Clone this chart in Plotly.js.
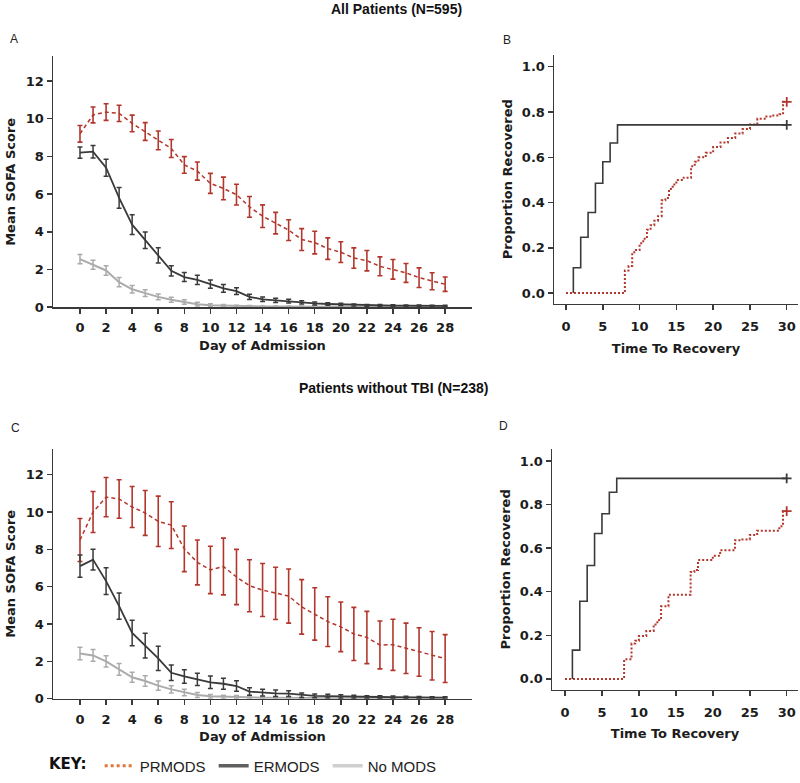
<!DOCTYPE html>
<html>
<head>
<meta charset="utf-8">
<script src="https://cdn.plot.ly/plotly-3.0.1.min.js"></script>
<style>html,body{margin:0;padding:0;background:#fff;}#chart{width:800px;height:783px;}</style>
</head>
<body>
<div id="chart"></div>
<script>
// ---------- Data ----------
const days = [0,1,2,3,4,5,6,7,8,9,10,11,12,13,14,15,16,17,18,19,20,21,22,23,24,25,26,27,28];
const dayTicks = [0,2,4,6,8,10,12,14,16,18,20,22,24,26,28];
const sofaTicks = [0,2,4,6,8,10,12];
const timeTicks = [0,5,10,15,20,25,30];
const propTicks = [0,0.2,0.4,0.6,0.8,1.0];

// Panel A: all patients
const A_PR_mean = [9.2,10.2,10.35,10.28,9.75,9.32,8.85,8.42,7.55,7.22,6.57,6.3,5.97,5.32,4.83,4.46,4.09,3.59,3.43,3.11,2.92,2.61,2.47,2.17,2.01,1.82,1.57,1.38,1.22];
const A_PR_err  = [0.44,0.42,0.44,0.43,0.44,0.47,0.5,0.48,0.44,0.48,0.53,0.6,0.55,0.55,0.6,0.57,0.55,0.58,0.6,0.57,0.55,0.54,0.54,0.5,0.52,0.5,0.52,0.45,0.38];
const A_ER_mean = [8.2,8.25,7.4,5.8,4.38,3.55,2.75,1.93,1.6,1.45,1.23,1.0,0.85,0.55,0.42,0.36,0.32,0.26,0.2,0.17,0.15,0.12,0.1,0.09,0.09,0.08,0.08,0.07,0.07];
const A_ER_err  = [0.3,0.33,0.45,0.55,0.52,0.44,0.4,0.27,0.24,0.25,0.22,0.2,0.18,0.14,0.12,0.11,0.1,0.09,0.08,0.07,0.06,0.05,0.05,0.05,0.04,0.04,0.04,0.04,0.04];
const A_NO_mean = [2.55,2.25,1.95,1.33,0.95,0.75,0.55,0.4,0.28,0.16,0.1,0.08,0.06,0.05,0.04,0.04,0.03,0.03,0.03,0.03,0.02,0.02,0.02,0.02,0.02,0.02,0.02,0.02,0.02];
const A_NO_err  = [0.25,0.24,0.25,0.25,0.2,0.18,0.15,0.13,0.12,0.1,0.08,0.06,0.05,0.04,0.03,0.03,0.03,0.03,0.02,0.02,0.02,0.02,0.02,0.02,0.02,0.02,0.02,0.02,0.02];

// Panel B: time to recovery, all patients
const B_ER_time = [1,1,2,3,4,5,6,7,30];
const B_ER_prop = [0,0.112,0.247,0.356,0.485,0.58,0.663,0.743,0.743];
const B_PR_time = [0,8,8.5,9,9.5,10,10.5,11,11.5,12,12.5,13,13.5,14,14.5,15,16,17,17.5,18,19,20,21,22,23,24,25,26,27,28,29,29.5,30];
const B_PR_prop = [0,0.10,0.12,0.18,0.19,0.22,0.24,0.28,0.30,0.32,0.34,0.41,0.42,0.46,0.48,0.50,0.51,0.56,0.58,0.60,0.62,0.645,0.665,0.685,0.705,0.725,0.745,0.77,0.78,0.785,0.79,0.845,0.845];

// Panel C: patients without TBI
const C_PR_mean = [8.5,10.0,10.8,10.7,10.27,9.95,9.5,9.3,8.03,7.3,6.9,7.08,6.52,6.05,5.82,5.64,5.5,4.92,4.54,4.13,3.85,3.47,3.28,2.88,2.89,2.7,2.5,2.3,2.15];
const C_PR_err  = [1.15,1.1,1.05,1.03,1.1,1.2,1.35,1.25,1.22,1.2,1.27,1.52,1.48,1.39,1.42,1.4,1.45,1.46,1.4,1.33,1.33,1.42,1.4,1.28,1.37,1.35,1.3,1.3,1.28];
const C_ER_mean = [7.1,7.45,6.3,4.96,3.52,2.84,2.16,1.39,1.19,1.04,0.88,0.8,0.68,0.38,0.32,0.29,0.27,0.19,0.15,0.14,0.12,0.1,0.09,0.09,0.08,0.07,0.07,0.06,0.06];
const C_ER_err  = [0.6,0.55,0.72,0.7,0.68,0.66,0.65,0.42,0.36,0.33,0.33,0.3,0.28,0.2,0.18,0.17,0.15,0.12,0.1,0.1,0.09,0.08,0.07,0.07,0.06,0.06,0.05,0.05,0.05];
const C_NO_mean = [2.42,2.32,2.0,1.57,1.15,0.95,0.7,0.5,0.33,0.2,0.13,0.1,0.09,0.06,0.05,0.05,0.04,0.04,0.04,0.03,0.03,0.03,0.03,0.03,0.03,0.03,0.03,0.03,0.03];
const C_NO_err  = [0.33,0.32,0.3,0.32,0.27,0.28,0.25,0.2,0.17,0.13,0.1,0.09,0.08,0.05,0.04,0.04,0.04,0.03,0.03,0.03,0.03,0.03,0.03,0.03,0.03,0.03,0.03,0.03,0.03];

// Panel D: time to recovery, without TBI
const D_ER_time = [1,1,2,3,4,5,6,7,30];
const D_ER_prop = [0,0.132,0.356,0.52,0.667,0.758,0.856,0.92,0.92];
const D_PR_time = [0,8,9,9.5,10,11,12,12.5,13,14,17,17.5,18,20,21,23,24,25,26,29,29.5,30];
const D_PR_prop = [0,0.09,0.162,0.175,0.197,0.22,0.25,0.27,0.333,0.386,0.49,0.50,0.545,0.565,0.59,0.636,0.64,0.66,0.68,0.70,0.77,0.77];

const groupNames = ['PRMODS','ERMODS','No MODS'];

// ---------- Styles ----------
const RED = '#b2362c';
const DARK = '#3a3a3a';
const LIGHT = '#ababab';

function sofaTraces(xa, ya, pr, prErr, no, noErr, er, erErr) {
  return [
    {x: days, y: pr, xaxis: xa, yaxis: ya, mode: 'lines', showlegend: false,
     line: {color: RED, width: 1.5, dash: '4px,3px'},
     error_y: {type: 'data', array: prErr, visible: true, color: RED, thickness: 1.6, width: 2.5}},
    {x: days, y: no, xaxis: xa, yaxis: ya, mode: 'lines', showlegend: false,
     line: {color: LIGHT, width: 2},
     error_y: {type: 'data', array: noErr, visible: true, color: LIGHT, thickness: 1.5, width: 2.5}},
    {x: days, y: er, xaxis: xa, yaxis: ya, mode: 'lines', showlegend: false,
     line: {color: DARK, width: 1.8},
     error_y: {type: 'data', array: erErr, visible: true, color: DARK, thickness: 1.5, width: 2.5}}
  ];
}
function kmTraces(xa, ya, prT, prP, erT, erP) {
  return [
    {x: prT, y: prP, xaxis: xa, yaxis: ya, mode: 'lines', showlegend: false,
     line: {color: RED, width: 2, dash: '2px,2px', shape: 'hv'}},
    {x: erT, y: erP, xaxis: xa, yaxis: ya, mode: 'lines', showlegend: false,
     line: {color: DARK, width: 1.6, shape: 'hv'}},
    {x: [prT[prT.length-1]], y: [prP[prP.length-1]], xaxis: xa, yaxis: ya, mode: 'markers', showlegend: false,
     marker: {symbol: 'cross-thin', size: 7, line: {color: RED, width: 1.8}}},
    {x: [erT[erT.length-1]], y: [erP[erP.length-1]], xaxis: xa, yaxis: ya, mode: 'markers', showlegend: false,
     marker: {symbol: 'cross-thin', size: 7, line: {color: DARK, width: 1.8}}}
  ];
}

const keyTraces = [
  {x: [null], y: [null], xaxis: 'x', yaxis: 'y', mode: 'lines', name: groupNames[0], line: {color: '#e0743a', width: 3, dash: '3px,3px'}},
  {x: [null], y: [null], xaxis: 'x', yaxis: 'y', mode: 'lines', name: groupNames[1], line: {color: '#5f5f5f', width: 3.5}},
  {x: [null], y: [null], xaxis: 'x', yaxis: 'y', mode: 'lines', name: groupNames[2], line: {color: '#cfcfcf', width: 3.5}}
];

const data = [].concat(
  sofaTraces('x', 'y', A_PR_mean, A_PR_err, A_NO_mean, A_NO_err, A_ER_mean, A_ER_err),
  kmTraces('x2', 'y2', B_PR_time, B_PR_prop, B_ER_time, B_ER_prop),
  sofaTraces('x3', 'y3', C_PR_mean, C_PR_err, C_NO_mean, C_NO_err, C_ER_mean, C_ER_err),
  kmTraces('x4', 'y4', D_PR_time, D_PR_prop, D_ER_time, D_ER_prop),
  keyTraces
);

const W = 800, H = 783;
const px = v => v / W;
const py = v => 1 - v / H;

const tickFont = {family: 'DejaVu Sans', size: 13, color: '#1c1c1c', weight: 'bold'};
const titleFont = {family: 'DejaVu Sans', size: 13, color: '#1c1c1c', weight: 'bold'};
function ax(extra) {
  return Object.assign({
    showline: true, linecolor: DARK, linewidth: 1.5, mirror: false,
    ticks: 'outside', ticklen: 5, tickwidth: 1.5, tickcolor: DARK,
    showgrid: false, zeroline: false, tickfont: tickFont, automargin: false, fixedrange: true
  }, extra);
}

const layout = {
  width: W, height: H,
  margin: {l: 0, r: 0, t: 0, b: 0},
  paper_bgcolor: '#fff', plot_bgcolor: 'rgba(0,0,0,0)',
  showlegend: true,
  legend: {
    orientation: 'h', x: px(47), xanchor: 'left', y: py(773), yanchor: 'middle',
    title: {text: 'KEY:\u00a0', side: 'left', font: {family: 'DejaVu Sans', size: 15, weight: 'bold', color: '#111'}},
    font: {family: 'Liberation Sans', size: 15, color: '#222'},
    itemwidth: 30, entrywidth: 69, entrywidthmode: 'pixels', bgcolor: 'rgba(0,0,0,0)', borderwidth: 0,
    traceorder: 'normal'
  },
  // Panel A
  xaxis: ax({domain: [px(53), px(472)], range: [-2.07, 30.06], tickvals: dayTicks, anchor: 'y', ticklabelstandoff: 3,
    title: {text: 'Day of Admission', font: titleFont, standoff: 6}}),
  yaxis: ax({domain: [py(310), py(57)], range: [0, 13.3], tickvals: sofaTicks, anchor: 'x',
    title: {text: 'Mean SOFA Score', font: titleFont, standoff: 7}}),
  // Panel B
  xaxis2: ax({domain: [px(554), px(798)], range: [-1.63, 31.53], tickvals: timeTicks, anchor: 'y2', ticklabelstandoff: 5,
    title: {text: 'Time To Recovery', font: titleFont, standoff: 11}}),
  yaxis2: ax({domain: [py(306.7), py(55)], range: [-0.048, 1.054], tickvals: propTicks, tickformat: '.1f', anchor: 'x2',
    title: {text: 'Proportion Recovered', font: titleFont, standoff: 6}}),
  // Panel C
  xaxis3: ax({domain: [px(53), px(472)], range: [-2.07, 30.06], tickvals: dayTicks, anchor: 'y3', ticklabelstandoff: 3,
    title: {text: 'Day of Admission', font: titleFont, standoff: 6}}),
  yaxis3: ax({domain: [py(705), py(453)], range: [0, 13.38], tickvals: sofaTicks, anchor: 'x3',
    title: {text: 'Mean SOFA Score', font: titleFont, standoff: 7}}),
  // Panel D
  xaxis4: ax({domain: [px(552), px(798)], range: [-1.76, 31.53], tickvals: timeTicks, anchor: 'y4', ticklabelstandoff: 5,
    title: {text: 'Time To Recovery', font: titleFont, standoff: 10}}),
  yaxis4: ax({domain: [py(696), py(453)], range: [-0.05, 1.055], tickvals: propTicks, tickformat: '.1f', anchor: 'x4',
    title: {text: 'Proportion Recovered', font: titleFont, standoff: 6}}),
  annotations: [
    {text: '<b>All Patients (N=595)</b>', x: px(396), y: py(9), xref: 'paper', yref: 'paper', xanchor: 'center', yanchor: 'middle', showarrow: false,
     font: {family: 'Liberation Sans', size: 14, color: '#111'}},
    {text: '<b>Patients without TBI (N=238)</b>', x: px(393), y: py(392), xref: 'paper', yref: 'paper', xanchor: 'center', yanchor: 'middle', showarrow: false,
     font: {family: 'Liberation Sans', size: 14, color: '#111'}},
    {text: 'A', x: px(14), y: py(39), xref: 'paper', yref: 'paper', xanchor: 'center', yanchor: 'middle', showarrow: false, font: {family: 'Liberation Sans', size: 12, color: '#222'}},
    {text: 'B', x: px(507), y: py(40), xref: 'paper', yref: 'paper', xanchor: 'center', yanchor: 'middle', showarrow: false, font: {family: 'Liberation Sans', size: 12, color: '#222'}},
    {text: 'C', x: px(15), y: py(432), xref: 'paper', yref: 'paper', xanchor: 'center', yanchor: 'middle', showarrow: false, font: {family: 'Liberation Sans', size: 12, color: '#222'}},
    {text: 'D', x: px(503), y: py(430), xref: 'paper', yref: 'paper', xanchor: 'center', yanchor: 'middle', showarrow: false, font: {family: 'Liberation Sans', size: 12, color: '#222'}}
  ]
};

Plotly.newPlot('chart', data, layout, {displayModeBar: false, staticPlot: true});
</script>
</body>
</html>
